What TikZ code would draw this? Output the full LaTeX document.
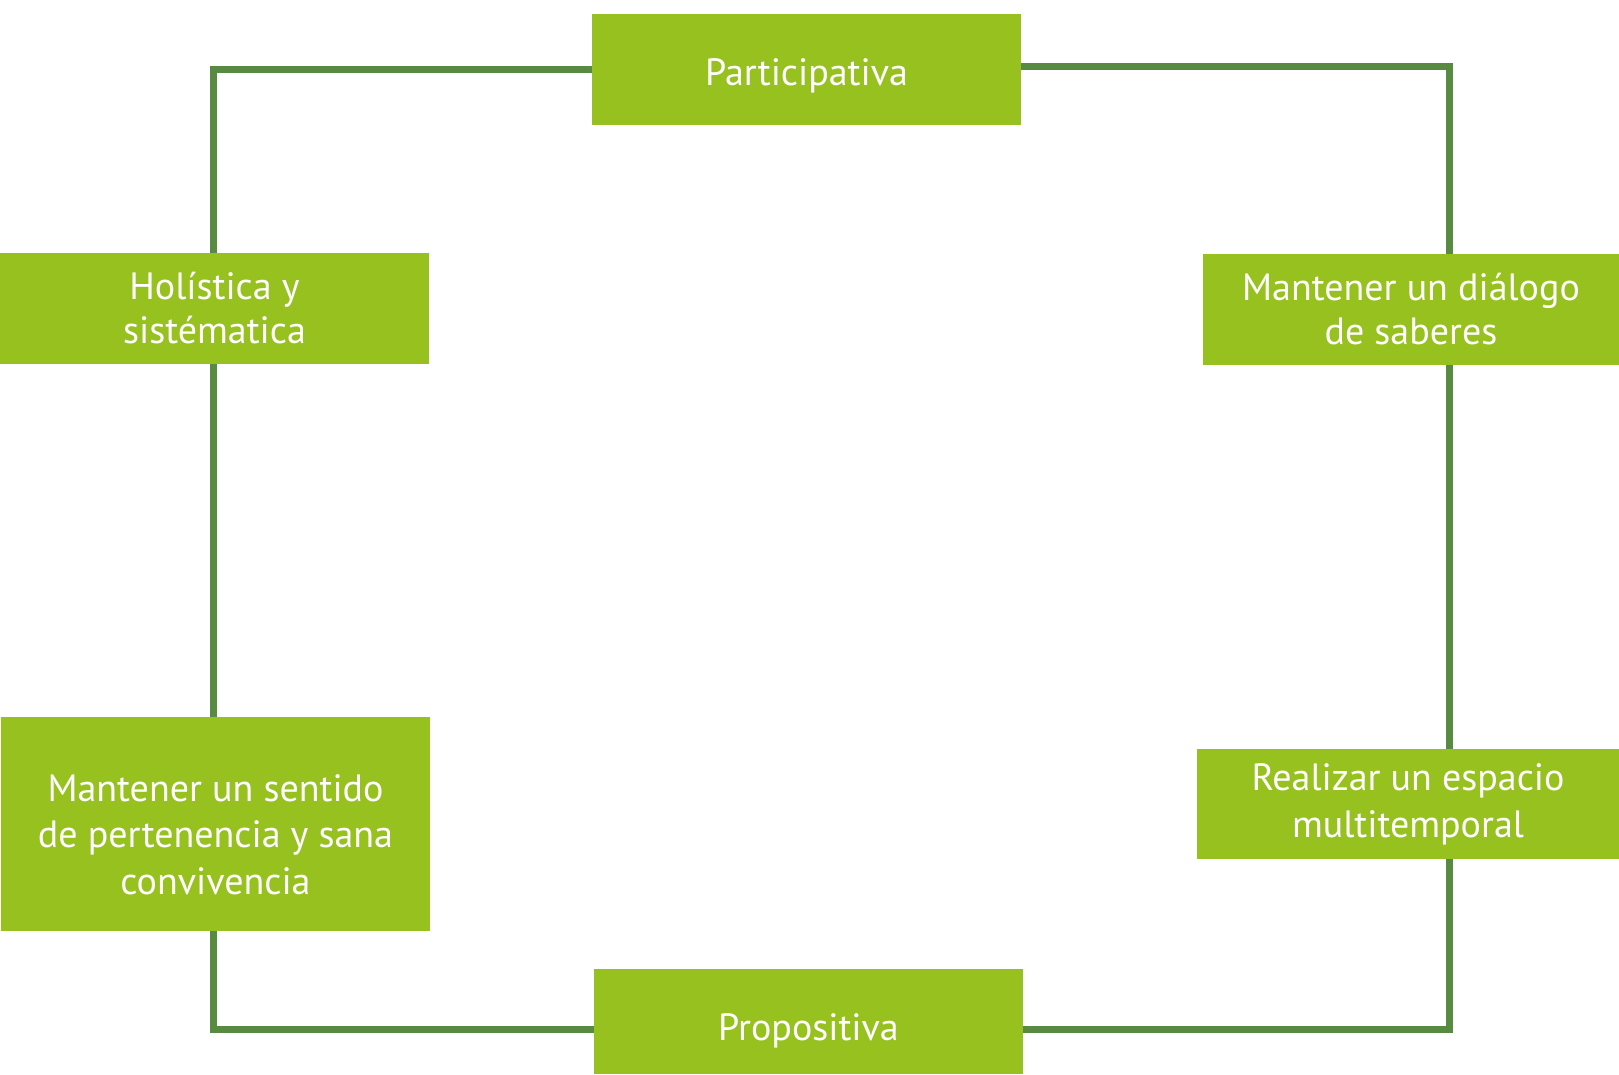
\documentclass[tikz,border=0pt]{standalone}
\usepackage{fontspec}
\setmainfont{PT Sans}
\usetikzlibrary{backgrounds}
\definecolor{boxgreen}{HTML}{96C11F}
\definecolor{linegreen}{HTML}{588B41}
\begin{document}
\begin{tikzpicture}[x=1pt,y=-1pt,
  every node/.style = {shape=rectangle, fill=boxgreen, text=white,
    align=center, inner sep=0pt, font=\fontsize{38}{44}\selectfont},
  link/.style = {draw=linegreen, line width=7pt}
  ]
  \useasboundingbox (0,0) rectangle (1619,1074);
  % boxes
  \node[minimum width=429, minimum height=111, text height=31, text depth=0] (parti) at (806.5,69.5) {Participativa};
  \node[minimum width=429, minimum height=111] (holi) at (214.5,308.5) {Holística y\\sistématica};
  \node[minimum width=416, minimum height=111] (dialogo) at (1411,309.5) {Mantener un diálogo\\de saberes};
  \node[minimum width=429, minimum height=214, text height=140, text depth=0,
    font=\fontsize{38}{46.2}\selectfont] (sentido) at (215.5,824) {Mantener un sentido\\de pertenencia y sana\\convivencia};
  \node[minimum width=422, minimum height=110, text height=66.6, text depth=0,
    font=\fontsize{38}{47}\selectfont] (realizar) at (1408,804) {Realizar un espacio\\multitemporal};
  \node[minimum width=429, minimum height=105, text height=38.4, text depth=0] (propo) at (808.5,1021.5) {Propositiva};
  % frame corners
  \coordinate (tr) at (1449,66);
  \coordinate (br) at (1449,1029);
  \coordinate (bl) at (213,1029);
  \begin{scope}[on background layer]
    \draw[link] (holi.north -| bl) |- (parti.west);
    \draw[link] ([yshift=3.5]parti.east) -- (tr) -- (tr |- dialogo.north);
    \draw[link] (tr |- dialogo.south) -- (tr |- realizar.north);
    \draw[link] (tr |- realizar.south) -- (br) -- (br -| propo.east);
    \draw[link] (bl |- holi.south) -- (bl |- sentido.north);
    \draw[link] (bl |- sentido.south) -- (bl) -- (bl -| propo.west);
  \end{scope}
\end{tikzpicture}
\end{document}
